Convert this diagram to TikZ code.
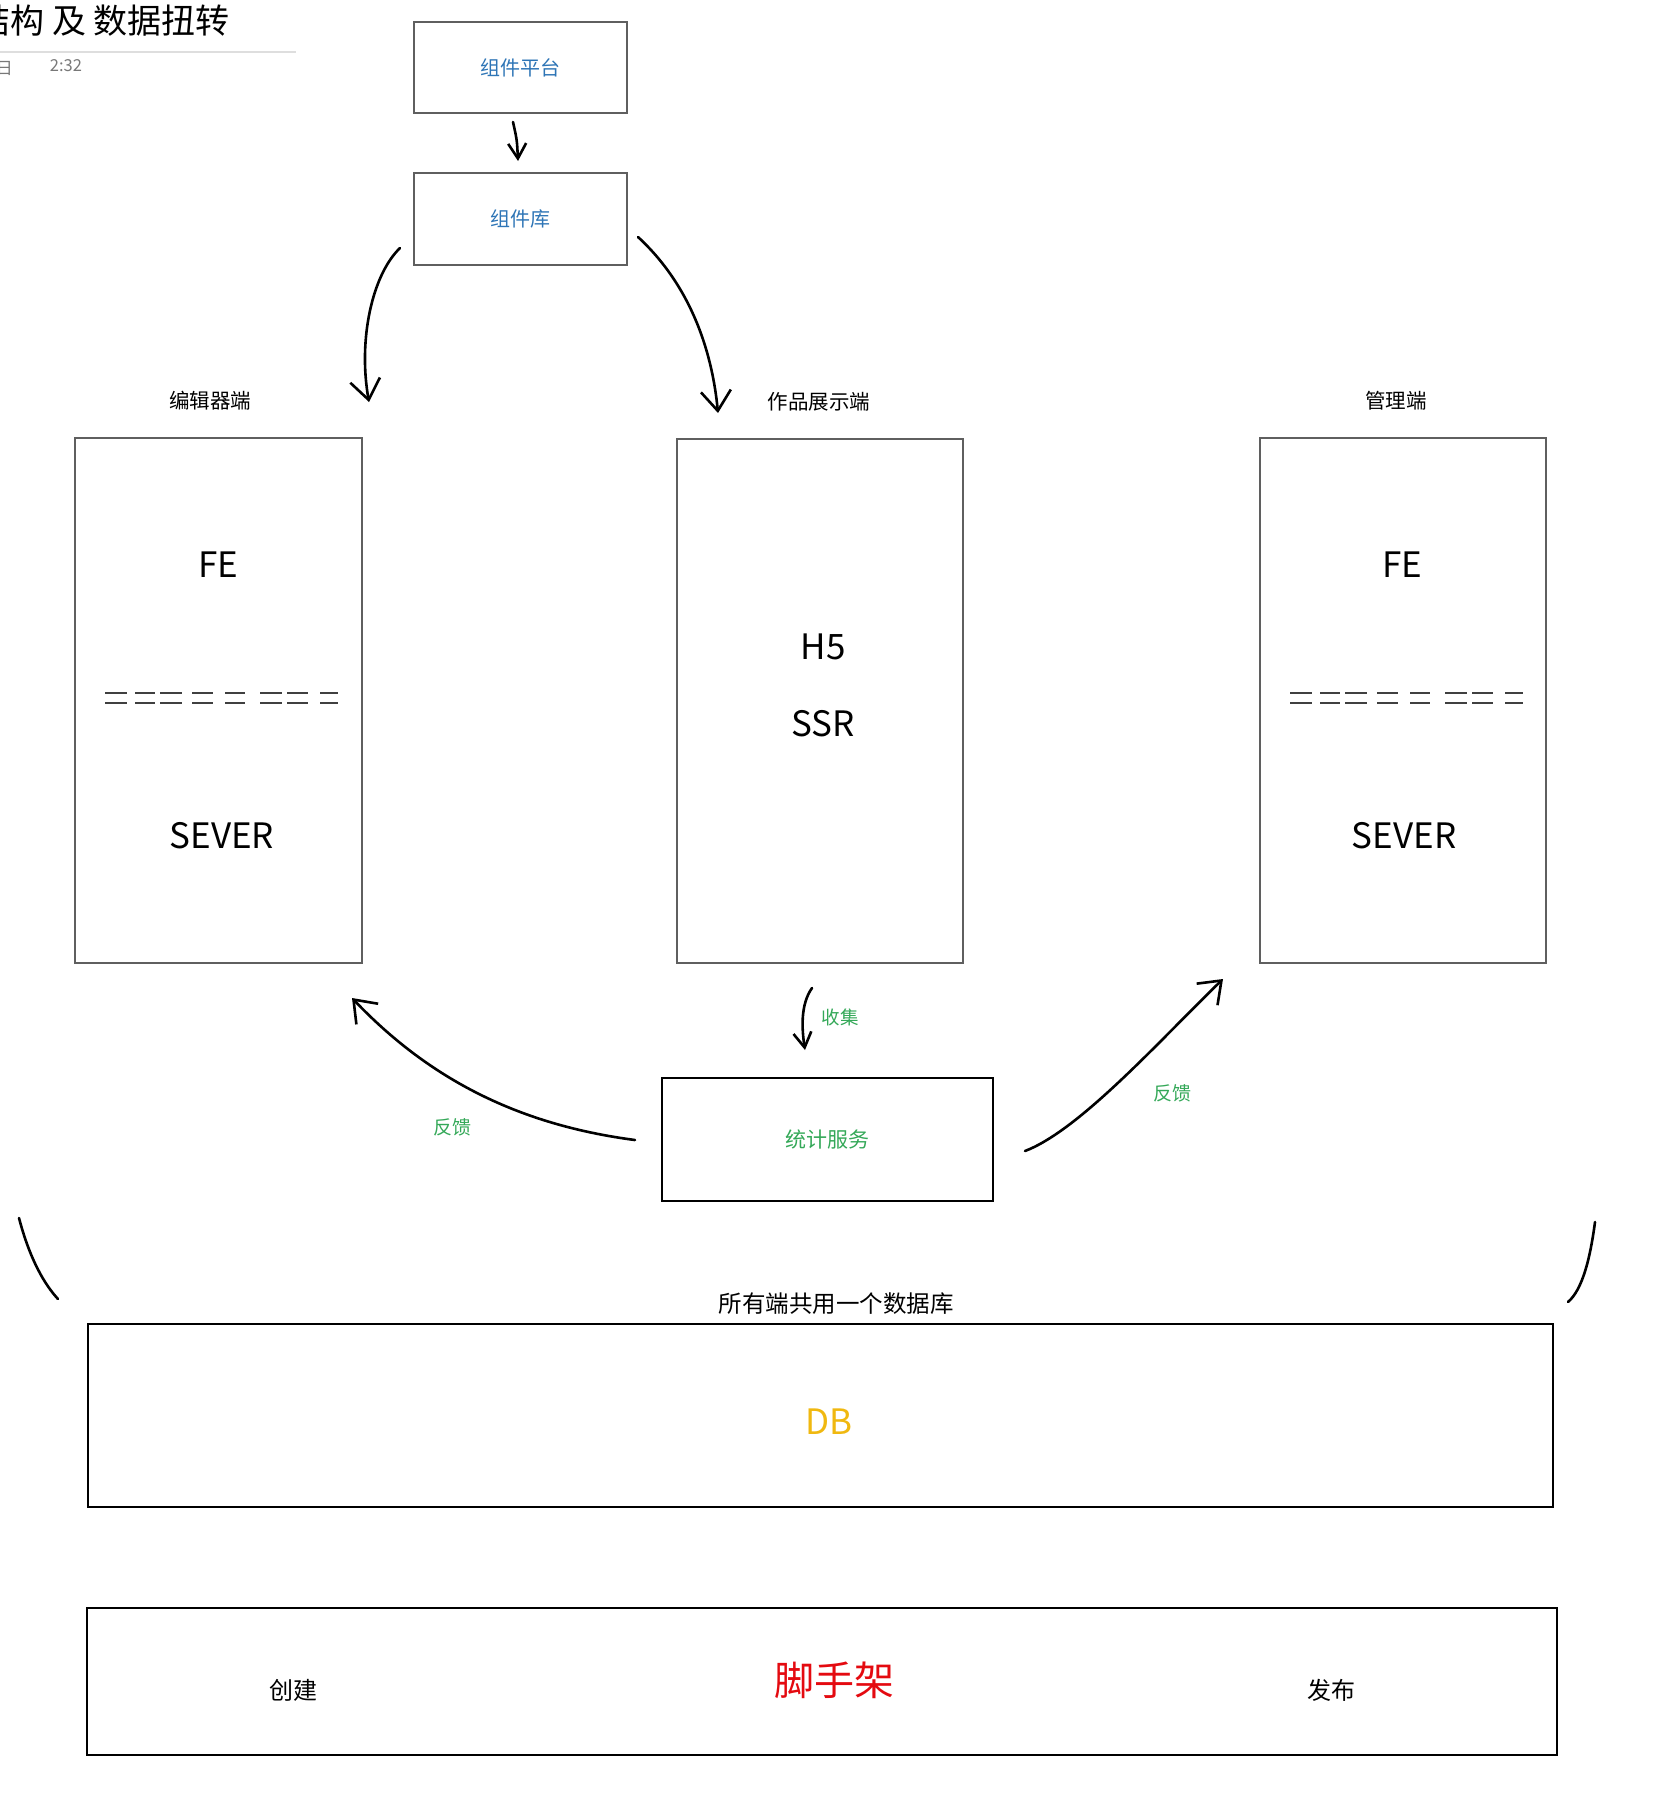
\documentclass[tikz,border=0pt]{standalone}
\usepackage{fontspec}
\setmainfont{Noto Sans CJK SC}
\usetikzlibrary{arrows.meta}
\newcommand\pxsize[1]{\fontsize{#1}{#1}\selectfont}
\definecolor{linkblue}{RGB}{46,117,182}
\definecolor{notegreen}{RGB}{52,168,88}
\definecolor{dbyellow}{RGB}{240,184,16}
\definecolor{scaffred}{RGB}{228,10,16}
\definecolor{boxgray}{RGB}{95,95,95}
\definecolor{rulegray}{RGB}{222,222,222}
\definecolor{dategray}{RGB}{120,120,120}
\tikzset{
	thinbox/.style={draw=boxgray,line width=1.5pt,inner sep=0pt},
	thickbox/.style={draw=black,line width=2.4pt,inner sep=0pt},
	pen/.style={line width=2.6pt,line cap=round,line join=round},
	bighead/.style={-{Straight Barb[length=20pt,width=30pt]}},
	smallhead/.style={-{Straight Barb[length=15pt,width=18pt]}},
	sidelabel/.style={font=\pxsize{20.5}},
	bigtext/.style={font=\pxsize{35}},
	seprule/.style={draw=black!75,line width=1.3pt}
}
\begin{document}
\begin{tikzpicture}[x=1pt,y=-1pt]
	\useasboundingbox (0,0) rectangle (1655,1802);
	\node[anchor=east,inner sep=0pt,font=\pxsize{34}] (title) at (230,21) {结构 及 数据扭转};
	\draw[rulegray,line width=1.5pt] (0,52) -- (296,52);
	\node[anchor=east,inner sep=0pt,text=dategray,font=\pxsize{17}] (day) at (13,69) {日};
	\node[text=dategray,font=\pxsize{16.5}] (time) at (66,66) {2:32};

	\node[thinbox,minimum width=213,minimum height=91,text=linkblue,font=\pxsize{20}] (P) at (520.5,67.5) {组件平台};
	\node[thinbox,minimum width=213,minimum height=92,text=linkblue,font=\pxsize{20}] (K) at (520.5,219) {组件库};

	\node[thinbox,minimum width=287,minimum height=525] (E) at (218.5,700.5) {};
	\node[thinbox,minimum width=286,minimum height=524] (W) at (820,701) {};
	\node[thinbox,minimum width=286,minimum height=525] (M) at (1403,700.5) {};
	\node[sidelabel] (Elab) at (210,401) {编辑器端};
	\node[sidelabel] (Wlab) at (819,402) {作品展示端};
	\node[sidelabel] (Mlab) at (1396,401) {管理端};

	\node[bigtext] (Efe) at (218,565) {FE};
	\node[bigtext] (Esv) at (222,836) {SEVER};
	\node[bigtext] (Wh5) at (823,647) {H5};
	\node[bigtext] (Wssr) at (823,724) {SSR};
	\node[bigtext] (Mfe) at (1402,565) {FE};
	\node[bigtext] (Msv) at (1404,836) {SEVER};
	\foreach \o in {75,1260}
		\foreach \a/\b in {30/52,60/80,85/107,117/138,150/170,185/207,212/233,245/263}
			\draw[seprule] (\o+\a,693) -- (\o+\b,693) (\o+\a,703) -- (\o+\b,703);

	\node[thickbox,minimum width=331,minimum height=123,text=notegreen,font=\pxsize{21}] (S) at (827.5,1139.5) {统计服务};
	\node[text=notegreen,font=\pxsize{18.5}] (collect) at (840,1017) {收集};
	\node[text=notegreen,font=\pxsize{19}] (fbL) at (452,1127) {反馈};
	\node[text=notegreen,font=\pxsize{19}] (fbR) at (1172,1093) {反馈};

	\node[font=\pxsize{23.5}] (Dlab) at (836,1304) {所有端共用一个数据库};
	\node[thickbox,minimum width=1465,minimum height=183] (D) at (820.5,1415.5) {};
	\node[text=dbyellow,font=\pxsize{35}] (db) at (829,1422) {DB};

	\node[thickbox,minimum width=1470,minimum height=147] (J) at (822,1681.5) {};
	\node[text=scaffred,font=\pxsize{40}] (cli) at (834,1680) {脚手架};
	\node[font=\pxsize{24}] (create) at (293,1690) {创建};
	\node[font=\pxsize{24}] (publish) at (1331,1690) {发布};

	\coordinate (c1) at (513,122);
	\coordinate (c2) at (518,161);
	\coordinate (c3) at (400,248);
	\coordinate (c4) at (369,402);
	\coordinate (c5) at (638,237);
	\coordinate (c6) at (718,413);
	\coordinate (c7) at (812,988);
	\coordinate (c8) at (805,1050);
	\coordinate (c9) at (635,1140);
	\coordinate (c10) at (352,998);
	\coordinate (c11) at (1025,1151);
	\coordinate (c12) at (1223,979);
	\draw[pen,smallhead] (c1) .. controls (517,140) .. (c2);
	\draw[pen,bighead] (c3) .. controls (372,275) and (358,340) .. (c4);
	\draw[pen,bighead] (c5) .. controls (690,285) and (712,350) .. (c6);
	\draw[pen,smallhead] (c7) .. controls (800,1005) and (802,1030) .. (c8);
	\draw[pen,bighead] (c9) .. controls (520,1125) and (430,1080) .. (c10);
	\draw[pen,bighead] (c11) .. controls (1080,1130) and (1160,1040) .. (c12);
	\draw[pen] (19,1218) .. controls (30,1260) and (45,1285) .. (58,1299);
	\draw[pen] (1595,1222) .. controls (1590,1260) and (1582,1290) .. (1568,1302);
\end{tikzpicture}
\end{document}
